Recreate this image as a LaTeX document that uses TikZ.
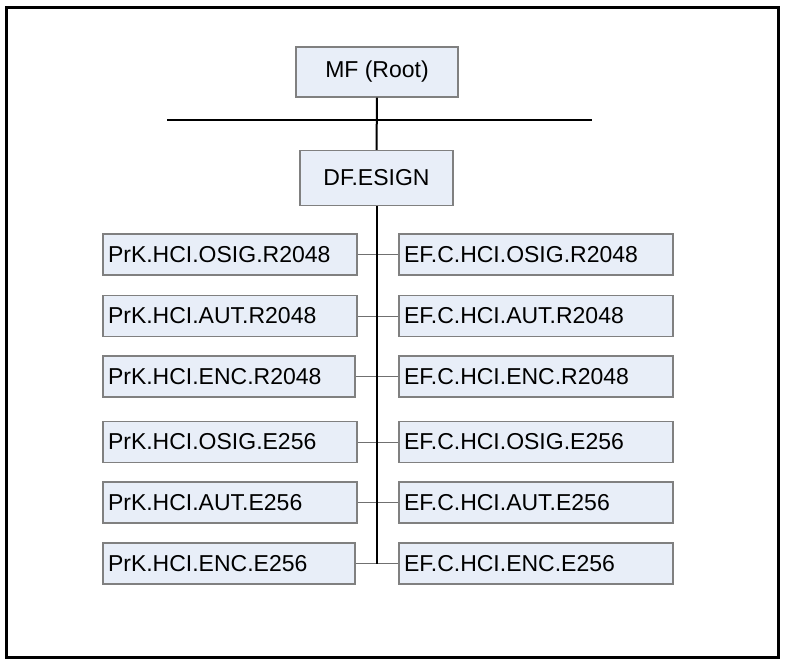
\documentclass[tikz,border=0pt]{standalone}
\usepackage{fontspec}
\setmainfont{Liberation Sans}
\definecolor{boxfill}{HTML}{E8EEF8}
\definecolor{boxline}{HTML}{808080}
\definecolor{conn}{HTML}{707070}
\tikzset{
  box/.style={draw=boxline, fill=boxfill, line width=1.2pt, inner sep=0pt,
    font=\fontsize{23}{26}\selectfont},
  leaf/.style={box, minimum height=41pt, inner xsep=5pt, align=left,
    text width=#1-10pt, minimum width=#1},
  trunk/.style={line width=2pt, black},
  branch/.style={line width=1pt, conn}
}
\begin{document}
\begin{tikzpicture}[x=1pt,y=-1pt]
\useasboundingbox (0,0) rectangle (785,665);
\draw[line width=3pt] (6,7) rectangle (778,657);

\node[box, minimum width=162pt, minimum height=50pt] (mf) at (377,72) {MF (Root)};
\node[box, minimum width=153pt, minimum height=55pt] (df) at (376.5,178) {DF.ESIGN};

\coordinate (hl) at (167,120);
\coordinate (hr) at (592,120);
\draw[trunk] (hl) -- (hr);
\draw[trunk] (mf.south) -- (df.north);

\node[leaf=254pt] (l1) at (230,254.5) {PrK.HCI.OSIG.R2048};
\node[leaf=254pt] (l2) at (230,316) {PrK.HCI.AUT.R2048};
\node[leaf=252pt] (l3) at (229,376.5) {PrK.HCI.ENC.R2048};
\node[leaf=254pt] (l4) at (230,442) {PrK.HCI.OSIG.E256};
\node[leaf=254pt] (l5) at (230,502.5) {PrK.HCI.AUT.E256};
\node[leaf=252pt] (l6) at (229,563.5) {PrK.HCI.ENC.E256};

\node[leaf=274pt] (r1) at (536,254.5) {EF.C.HCI.OSIG.R2048};
\node[leaf=274pt] (r2) at (536,316) {EF.C.HCI.AUT.R2048};
\node[leaf=274pt] (r3) at (536,376.5) {EF.C.HCI.ENC.R2048};
\node[leaf=274pt] (r4) at (536,442) {EF.C.HCI.OSIG.E256};
\node[leaf=274pt] (r5) at (536,502.5) {EF.C.HCI.AUT.E256};
\node[leaf=274pt] (r6) at (536,563.5) {EF.C.HCI.ENC.E256};

\foreach \i in {1,...,6} {
  \draw[branch] (l\i.east) -- (r\i.west);
}
\coordinate (tb) at (377,564);
\draw[trunk] (df.south -| tb) -- (tb);
\end{tikzpicture}
\end{document}
